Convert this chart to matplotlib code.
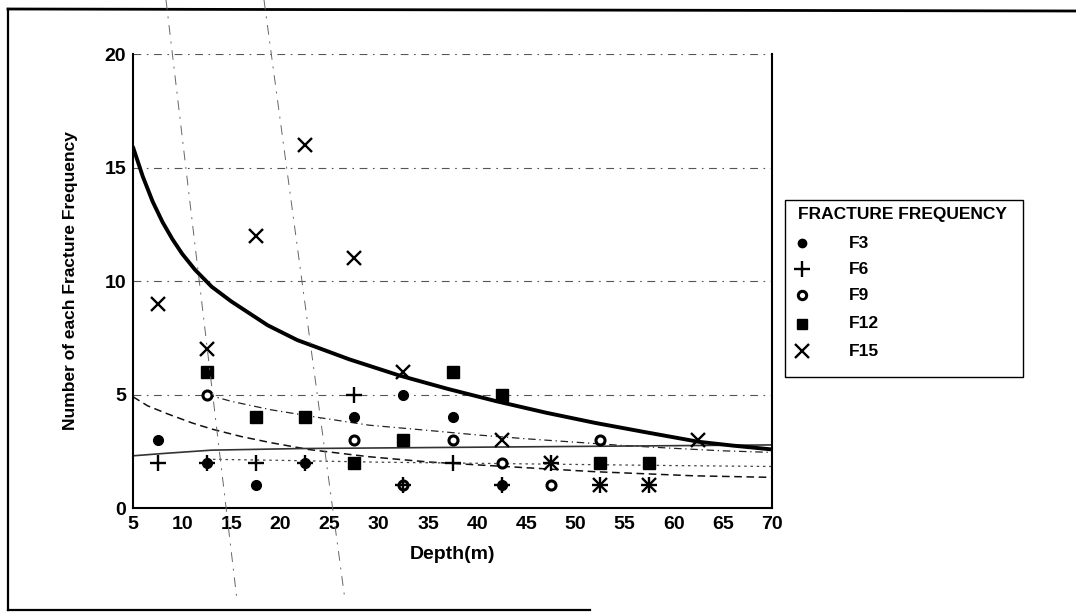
import matplotlib
matplotlib.use("Agg")
import matplotlib.pyplot as plt
from matplotlib.lines import Line2D
from matplotlib.patches import Rectangle

plt.rcParams['font.family'] = ['Liberation Sans', 'DejaVu Sans']
plt.rcParams['font.weight'] = 'bold'

# ---- data (depth mid-points, counts) ----
f3_x = [7.5, 12.5, 17.5, 22.5, 27.5, 32.5, 37.5, 42.5]
f3_y = [3, 2, 1, 2, 4, 5, 4, 1]

f6_x = [7.5, 12.5, 17.5, 22.5, 27.5, 32.5, 37.5, 42.5, 47.5, 52.5, 57.5]
f6_y = [2, 2, 2, 2, 5, 1, 2, 1, 2, 1, 1]

f9_x = [12.5, 27.5, 32.5, 37.5, 42.5, 47.5, 52.5]
f9_y = [5, 3, 1, 3, 2, 1, 3]

f12_x = [12.5, 17.5, 22.5, 27.5, 32.5, 37.5, 42.5, 52.5, 57.5]
f12_y = [6, 4, 4, 2, 3, 6, 5, 2, 2]

f15_x = [7.5, 12.5, 17.5, 22.5, 27.5, 32.5, 42.5, 47.5, 52.5, 57.5, 62.5]
f15_y = [9, 7, 12, 16, 11, 6, 3, 2, 1, 1, 3]

# trend lines
trend_a_x = [5, 6, 7, 8, 9, 10, 11.3, 13, 15, 18.7, 21.7, 27, 32, 37, 42, 47, 52, 57, 62.5, 66, 70]
trend_a_y = [15.9, 14.6, 13.5, 12.6, 11.85, 11.2, 10.5, 9.75, 9.1, 8.05, 7.4, 6.55, 5.85, 5.25,
             4.7, 4.2, 3.75, 3.35, 2.92, 2.75, 2.58]

trend_b_x = [12.5, 15, 19, 24, 29, 35, 40, 45, 50, 55, 60, 65, 70]
trend_b_y = [5.0, 4.7, 4.33, 3.98, 3.65, 3.42, 3.22, 3.05, 2.9, 2.75, 2.63, 2.52, 2.45]

trend_c_x = [5, 6.5, 8.5, 11, 13, 16, 19, 23, 29, 35, 42, 52, 62, 70]
trend_c_y = [4.9, 4.5, 4.15, 3.75, 3.48, 3.15, 2.88, 2.57, 2.26, 2.03, 1.85, 1.6, 1.42, 1.35]

trend_d_x = [5, 8, 13, 22, 40, 70]
trend_d_y = [2.3, 2.4, 2.55, 2.62, 2.68, 2.78]

trend_e_x = [12.5, 20, 30, 40, 50, 60, 70]
trend_e_y = [2.15, 2.1, 2.02, 1.97, 1.92, 1.87, 1.83]

x_ticks = [5, 10, 15, 20, 25, 30, 35, 40, 45, 50, 55, 60, 65, 70]
y_ticks = [0, 5, 10, 15, 20]
series_labels = ['F3', 'F6', 'F9', 'F12', 'F15']
legend_title = 'FRACTURE FREQUENCY'

fig = plt.figure(figsize=(10.76, 6.14), dpi=100)
ax = fig.add_axes([0.1236, 0.1726, 0.594, 0.7394])

# gridlines
for gy in y_ticks[1:]:
    ax.axhline(gy, color='#555555', lw=0.8, ls=(0, (7, 5, 1.5, 5)), zorder=1)

# trend lines
ax.plot(trend_a_x, trend_a_y, color='black', lw=2.8, zorder=3, solid_capstyle='round')
ax.plot(trend_b_x, trend_b_y, color='#222222', lw=0.9, ls=(0, (6, 3, 1, 3)), zorder=2)
ax.plot(trend_c_x, trend_c_y, color='#111111', lw=1.1, ls=(0, (5, 3)), zorder=2)
ax.plot(trend_d_x, trend_d_y, color='#333333', lw=1.2, zorder=2)
ax.plot(trend_e_x, trend_e_y, color='#444444', lw=0.9, ls=(0, (2, 3)), zorder=2)

# data points
ax.plot(f3_x, f3_y, ls='none', marker='o', ms=7, color='black', zorder=4)
ax.plot(f6_x, f6_y, ls='none', marker='+', ms=12, mew=1.7, color='black', zorder=5)
ax.plot(f9_x, f9_y, ls='none', marker='o', ms=6.5, mfc='white', mec='black', mew=2.2, zorder=4)
ax.plot(f12_x, f12_y, ls='none', marker='s', ms=9, color='black', zorder=4)
ax.plot(f15_x, f15_y, ls='none', marker='x', ms=10.5, mew=1.7, color='black', zorder=6)

ax.set_xlim(5, 70)
ax.set_ylim(0, 20)
ax.set_xticks(x_ticks)
ax.set_yticks(y_ticks)
ax.tick_params(axis='x', length=0, labelsize=14, pad=6)
ax.tick_params(axis='y', length=0, labelsize=14, pad=5)
for lab in ax.get_xticklabels() + ax.get_yticklabels():
    lab.set_fontweight('bold')
ax.spines['top'].set_visible(False)
for s in ['left', 'right', 'bottom']:
    ax.spines[s].set_linewidth(1.5)
    ax.spines[s].set_color('black')

ax.set_xlabel('Depth(m)', fontsize=14, fontweight='bold', labelpad=9)
ax.set_ylabel('Number of each Fracture Frequency', fontsize=12.5, fontweight='bold', labelpad=19)

# legend (drawn in figure pixels)
W, H = 1076.0, 614.0
def fx(px):
    return px / W
def fy(py):
    return 1 - py / H

fig.add_artist(Rectangle((fx(785), fy(377)), (1023 - 785) / W, (377 - 200) / H,
                         transform=fig.transFigure, fill=False, edgecolor='black', lw=1.0))
fig.text(fx(798), fy(215), legend_title, fontsize=12.5, fontweight='bold',
         ha='left', va='center')
handle_styles = [
    dict(marker='o', ms=6, color='black'),
    dict(marker='+', ms=12, mew=1.7, color='black'),
    dict(marker='o', ms=6, mfc='white', mec='black', mew=2.2),
    dict(marker='s', ms=7.5, color='black'),
    dict(marker='x', ms=10, mew=1.7, color='black'),
]
entry_y = [243, 269, 295, 324, 351]
for lab, st, py in zip(series_labels, handle_styles, entry_y):
    fig.add_artist(Line2D([fx(802)], [fy(py)], ls='none', transform=fig.transFigure, **st))
    fig.text(fx(849), fy(py), lab, fontsize=12.5, fontweight='bold', ha='left', va='center')

# outer chart-area frame (partially visible in the scan)
fig.add_artist(Line2D([fx(8), 1.0], [fy(9), fy(11)], color='black', lw=2, transform=fig.transFigure))
fig.add_artist(Line2D([fx(8), fx(8)], [fy(9), fy(610)], color='black', lw=1.6, transform=fig.transFigure))
fig.add_artist(Line2D([fx(8), fx(590)], [fy(610), fy(610)], color='black', lw=1.6, transform=fig.transFigure))

# faint scan-fold lines
fig.add_artist(Line2D([fx(166), fx(237)], [1.0, fy(600)], color='#666666', lw=0.7,
                      ls=(0, (10, 7, 2, 7)), transform=fig.transFigure))
fig.add_artist(Line2D([fx(264), fx(345)], [1.0, fy(600)], color='#666666', lw=0.7,
                      ls=(0, (10, 7, 2, 7)), transform=fig.transFigure))

fig.savefig('out.png', dpi=100)
